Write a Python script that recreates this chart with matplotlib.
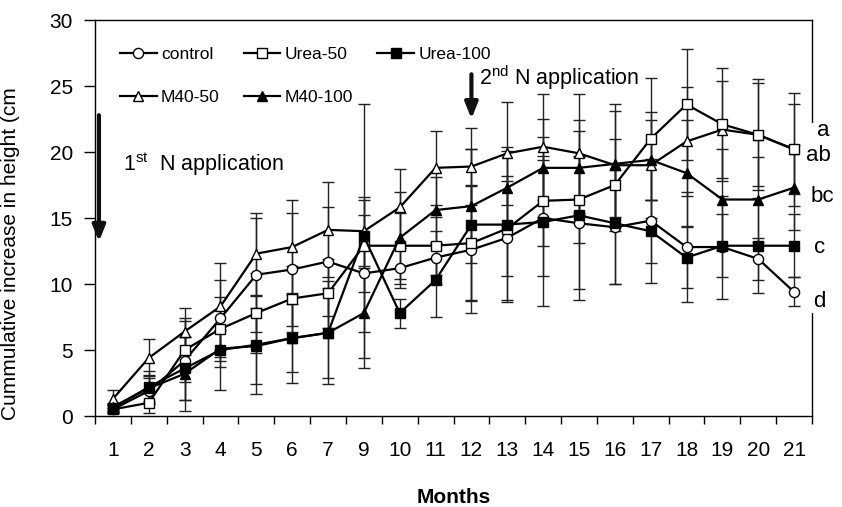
import matplotlib
matplotlib.use('Agg')
import matplotlib.pyplot as plt
from matplotlib.patches import Rectangle

plt.rcParams['font.family'] = ['Liberation Sans', 'DejaVu Sans']

# months (8 is not in the data)
months = ['1', '2', '3', '4', '5', '6', '7', '9', '10', '11', '12', '13', '14',
          '15', '16', '17', '18', '19', '20', '21']

control = [0.5, 1.9, 4.2, 7.4, 10.7, 11.1, 11.7, 10.8, 11.2, 12.0, 12.6, 13.5,
           15.0, 14.6, 14.3, 14.8, 12.8, 12.8, 11.9, 9.4]
urea50 = [0.5, 1.0, 5.0, 6.6, 7.8, 8.9, 9.3, 12.9, 12.9, 12.9, 13.1, 14.2,
          16.3, 16.4, 17.5, 21.0, 23.6, 22.1, 21.3, 20.2]
urea100 = [0.6, 2.2, 3.6, 5.0, 5.4, 5.9, 6.3, 13.6, 7.8, 10.3, 14.5, 14.5,
           14.7, 15.2, 14.6, 14.0, 12.0, 12.9, 12.9, 12.9]
m40_50 = [1.3, 4.4, 6.4, 8.3, 12.3, 12.8, 14.1, 14.0, 15.8, 18.8, 18.9, 19.9,
          20.4, 19.9, 19.0, 19.0, 20.8, 21.7, 21.3, 20.2]
m40_100 = [0.7, 2.1, 3.2, 5.1, 5.3, 5.9, 6.3, 7.8, 13.5, 15.6, 15.9, 17.3,
           18.8, 18.8, 19.1, 19.4, 18.4, 16.4, 16.4, 17.3]

# standard deviations
control_sd = [0.3, 1.0, 3.0, 2.9, 4.3, 4.3, 4.1, 4.4, 1.5, 2.0, 4.8, 4.7,
              4.4, 5.0, 4.3, 4.7, 4.2, 3.9, 1.6, 1.1]
urea50_sd = [0.3, 0.8, 2.4, 2.4, 3.0, 2.5, 2.6, 3.5, 2.5, 2.2, 4.4, 3.6,
             3.4, 3.3, 3.5, 4.6, 4.2, 4.3, 4.2, 4.3]
urea100_sd = [0.3, 1.2, 2.4, 3.0, 3.7, 3.4, 3.9, 10.0, 1.1, 2.8, 5.7, 5.9,
              6.4, 6.4, 4.6, 2.4, 2.3, 2.4, 3.6, 2.4]
m40_50_sd = [0.7, 1.4, 1.8, 3.3, 3.1, 3.6, 3.6, 2.6, 2.9, 2.8, 2.9, 3.9,
             4.0, 4.5, 4.6, 4.0, 4.1, 3.7, 3.9, 3.4]
m40_100_sd = [0.3, 1.0, 2.8, 1.4, 2.9, 2.6, 3.4, 3.4, 3.5, 2.5, 4.3, 2.8,
              3.7, 3.6, 4.0, 3.0, 4.0, 3.8, 3.2, 3.2]

letters = ['a', 'ab', 'bc', 'c', 'd']
letter_y = [21.6, 19.7, 16.6, 12.75, 8.7]
letter_x = [1.007, 0.992, 0.9986, 1.003, 1.0015]

fig = plt.figure(figsize=(8.42, 5.07), dpi=100)
ax = fig.add_axes([95 / 842, 1 - 416 / 507, 717 / 842, 396 / 507])

x = list(range(len(months)))
series = [
    ('control', control, control_sd, 'o', 'white'),
    ('M40-50', m40_50, m40_50_sd, '^', 'white'),
    ('Urea-50', urea50, urea50_sd, 's', 'white'),
    ('M40-100', m40_100, m40_100_sd, '^', 'black'),
    ('Urea-100', urea100, urea100_sd, 's', 'black'),
]

for name, vals, sd, mk, fc in series:
    ax.errorbar(x, vals, yerr=sd, fmt='none', ecolor='#222222', elinewidth=1,
                capsize=4, capthick=1, zorder=2)
for name, vals, sd, mk, fc in series:
    ax.plot(x, vals, color='black', lw=1.6, marker=mk, markersize=7.3,
            markerfacecolor=fc, markeredgecolor='black', markeredgewidth=1,
            label=name, zorder=3)

ax.set_xlim(-0.5, len(months) - 0.5)
ax.set_ylim(0, 30)
ax.set_xticks(x)
ax.set_xticklabels(months)
ax.set_xticks([i - 0.5 for i in range(len(months) + 1)], minor=True)
ax.tick_params(axis='x', which='major', length=0, pad=18, labelsize=15)
ax.tick_params(axis='x', which='minor', length=6, width=1)
ax.set_yticks(range(0, 31, 5))
ax.tick_params(axis='y', length=8, width=1, pad=8, labelsize=15)
for s in ax.spines.values():
    s.set_linewidth(1)

ax.set_xlabel('Months', fontsize=15, fontweight='bold')
ax.xaxis.set_label_coords(0.5, -0.183)
ax.set_ylabel('Cummulative increase in height (cm', fontsize=15)
ax.yaxis.set_label_coords(-0.104, 0.41)

ax.legend(ncol=3, frameon=False, loc='upper left', bbox_to_anchor=(0.035, 0.932),
          borderaxespad=0, borderpad=0, fontsize=12.5, handlelength=2.1,
          handletextpad=0.25, columnspacing=1.4, labelspacing=1.62)

# N application arrows
ax.annotate('', xy=(-0.39, 13.0), xytext=(-0.39, 23.0),
            arrowprops=dict(arrowstyle='-|>,head_width=0.38,head_length=0.95',
                            color='#111111', lw=3))
ax.text(0.28, 19.1, r'1$^{\mathregular{st}}$  N application', fontsize=15.5, va='center')
ax.annotate('', xy=(10, 22.3), xytext=(10, 26.1),
            arrowprops=dict(arrowstyle='-|>,head_width=0.38,head_length=0.95',
                            color='#111111', lw=3))
ax.text(10.22, 25.6, r'2$^{\mathregular{nd}}$ N application', fontsize=15.5, va='center')

# significance letters sit over the right spine
ax.add_patch(Rectangle((806 / 842, 1 - 313 / 507), 12 / 842, 190 / 507,
                       transform=fig.transFigure, facecolor='white',
                       edgecolor='none', zorder=5, clip_on=False))
for lab, xv, yv in zip(letters, letter_x, letter_y):
    ax.text(xv, yv, lab, fontsize=16, va='center', ha='left',
            transform=ax.get_yaxis_transform(), clip_on=False, zorder=6)

fig.savefig('out.png', dpi=100)
